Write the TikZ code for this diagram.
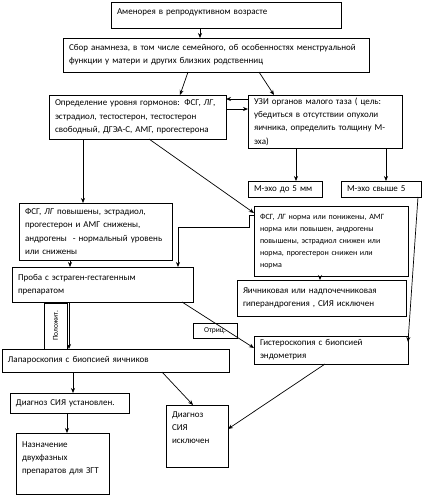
\documentclass[tikz,border=0pt]{standalone}
\usepackage{fontspec}
\setmainfont{Carlito}
\usetikzlibrary{arrows.meta}

\tikzset{
  blok/.style={draw, line width=0.7pt, anchor=north west, align=left,
    inner xsep=6pt, inner ysep=2pt, outer sep=0pt,
    font=\fontsize{9}{13.3}\selectfont},
  metka/.style={draw, line width=0.7pt, anchor=north west, inner sep=1pt,
    outer sep=0pt, font=\fontsize{7.5}{9}\selectfont}
}

\begin{document}
\begin{tikzpicture}[x=1pt, y=-1pt, >={Stealth[length=5pt,width=4pt]}, line width=0.7pt]
  \useasboundingbox (0,0) rectangle (425,499);

  % Define nodes for all boxes
  \node[blok, text width=218pt, minimum height=26pt, text depth=7pt] (amen) at (111,2) {Аменорея в репродуктивном возрасте};
  \node[blok, text width=294pt, minimum height=34pt] (anam) at (63,38) {Сбор анамнеза, в том числе семейного, об особенностях менструальной\\функции у матери и других близких родственниц};
  \node[blok, text width=165pt, minimum height=44pt] (gorm) at (49,95) {Определение уровня гормонов: ФСГ, \textit{ЛГ},\\эстрадиол, тестостерон, тестостерон\\свободный, ДГЭА-С, АМГ, прогестерона};
  \node[blok, text width=142pt, minimum height=53pt] (uzi) at (248,95) {УЗИ органов малого таза ( цель:\\убедиться в отсутствии опухоли\\яичника, определить толщину М-\\эха)};
  \node[blok, text width=62pt, minimum height=16pt, inner ysep=1pt] (mecho) at (248,181) {М-эхо до 5 мм};
  \node[blok, text width=68pt, minimum height=16pt, inner ysep=1pt] (mechob) at (341,181) {М-эхо свыше 5};
  \node[blok, text width=141pt, minimum height=57pt] (povysh) at (19,203) {ФСГ, \textit{ЛГ} повышены, эстрадиол,\\прогестерон и АМГ снижены,\\андрогены~ - нормальный уровень\\или снижены};
  \node[blok, text width=142pt, minimum height=70pt, font=\fontsize{8}{12}\selectfont] (norma) at (254,206) {ФСГ, \textit{ЛГ} норма или понижены, АМГ\\норма или повышен, андрогены\\повышены, эстрадиол снижен или\\норма, прогестерон снижен или\\норма};
  \node[blok, text width=169pt, minimum height=35pt] (proba) at (12,267) {Проба с эстраген-гестагенным\\препаратом};
  \node[blok, text width=157pt, minimum height=36pt] (yaich) at (237,280) {Яичниковая или надпочечниковая\\гиперандрогения , СИЯ исключен};
  \node[metka, minimum width=44pt, minimum height=15pt] (otric) at (193,323) {Отриц.};
  \node[metka, minimum width=46pt, minimum height=23pt, rotate=90] (polozh) at (44,349) {Положит.};
  \node[blok, text width=142pt, minimum height=28pt] (gist) at (254,336) {Гистероскопия с биопсией\\эндометрия};
  \node[blok, text width=215pt, minimum height=23pt] (lapa) at (2,349) {Лапароскопия с биопсией яичников};
  \node[blok, text width=107pt, minimum height=20pt, inner ysep=1pt] (ustan) at (10,393) {Диагноз СИЯ установлен.};
  \node[blok, text width=81pt, minimum height=61pt, text depth=38pt] (naznach) at (16,433) {Назначение\\двухфазных\\препаратов для ЗГТ};
  \node[blok, text width=50pt, minimum height=62pt, text depth=43pt] (isklyuch) at (166,405) {Диагноз\\СИЯ\\исключен};

  % Draw arrows
  \draw[->] ([xshift=89pt]amen.south west) -- ([xshift=89pt]amen.south west |- anam.north);
  \draw[->] ([xshift=125pt]anam.south west) -- ([xshift=131pt]gorm.north west);
  \draw[->] ([xshift=196pt]anam.south west) -- ([xshift=26pt]uzi.north west);
  \draw[->] ([yshift=-4pt]uzi.north west) -- ([yshift=-4pt]gorm.north east);
  \draw[->] ([yshift=-14pt]gorm.north east) -- ([yshift=-14pt]uzi.north west);
  \draw[->] ([xshift=34pt]gorm.south west) -- ([xshift=34pt]gorm.south west |- povysh.north);
  \draw[->] ([xshift=100pt]gorm.south west) -- ([yshift=-7pt]norma.north west);
  \draw[->] ([xshift=48pt]uzi.south west) -- ([xshift=48pt]uzi.south west |- mecho.north);
  \draw[->] ([xshift=138pt]uzi.south west) -- ([xshift=138pt]uzi.south west |- mechob.north);
  \draw[->] ([yshift=-9pt]norma.north west) -- ++(-5,0) -- ++(0,12) -| ([xshift=166pt]proba.north west);
  \draw[->] ([xshift=51pt]povysh.south west) -- ([xshift=51pt]povysh.south west |- proba.north);
  \draw[->] ([xshift=66pt]norma.south west) -- ([xshift=66pt]norma.south west |- yaich.north);
  \draw[->] ([xshift=-3pt]mechob.south east) -- ([yshift=-6pt]gist.north east);
  \draw[->] ([xshift=-11pt]proba.south east) -- ([yshift=-12pt]gist.north west);
  \draw[->] ([xshift=57pt]proba.south west) -- ([xshift=57pt]proba.south west |- lapa.north);
  \draw[->] ([xshift=71pt]lapa.south west) -- ([xshift=71pt]lapa.south west |- ustan.north);
  \draw[->] ([xshift=57pt]ustan.south west) -- ([xshift=57pt]ustan.south west |- naznach.north);
  \draw[->] ([xshift=160pt]lapa.south west) -- ([xshift=27pt]isklyuch.north west);
  \draw[->] ([xshift=71pt]gist.south west) -- ([yshift=-24pt]isklyuch.north east);

\end{tikzpicture}
\end{document}
